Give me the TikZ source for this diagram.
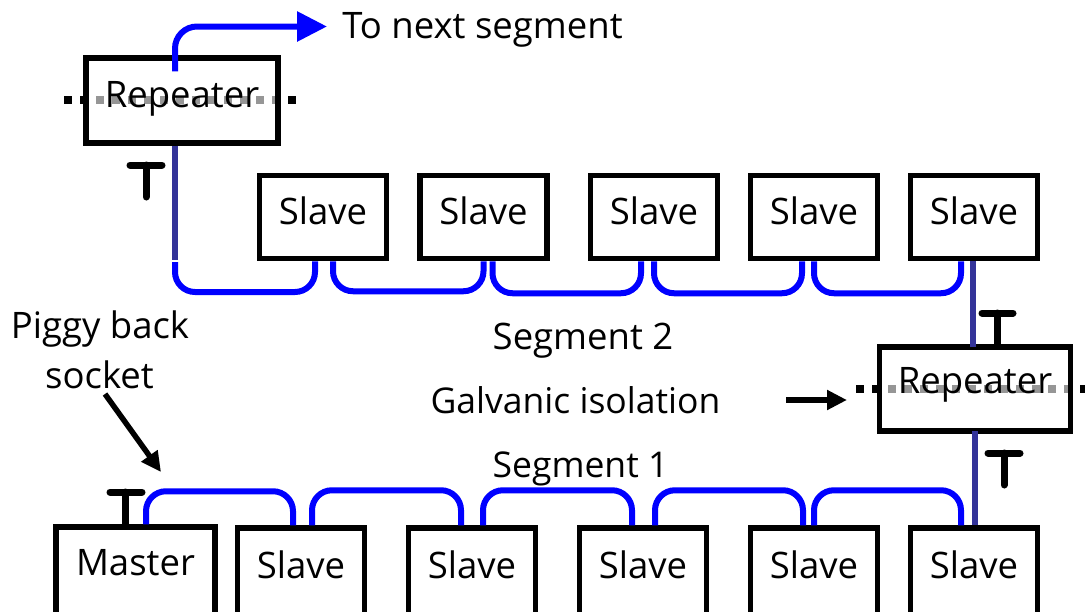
\documentclass[tikz,border=0pt]{standalone}
\usepackage{fontspec}
\setmainfont{Open Sans}
\usetikzlibrary{arrows.meta}
\tikzset{
  x=1pt,y=-1pt,
  unit/.style={draw=black,line width=5.5pt,inner sep=0pt,text height=30pt,text depth=#1,font=\fontsize{36.5}{40}\selectfont},
  slavebox/.style={unit=#1,minimum width=127pt},
  caption/.style={anchor=base,inner sep=0pt,font=\fontsize{36.5}{40}\selectfont},
  smallcaption/.style={caption,font=\fontsize{35.5}{40}\selectfont},
  bus/.style={draw={rgb,255:red,0;green,0;blue,255},line width=6pt,rounded corners=20pt},
  trunk/.style={draw={rgb,255:red,51;green,51;blue,153},line width=6pt},
  tbar/.style={draw=black,line width=7pt,line cap=round},
  pointer/.style={draw=black,line width=5.5pt,-{Triangle[length=20pt,width=19pt]}},
  dots/.style={line width=8pt,dash pattern=on 8pt off 8pt},
}
\definecolor{dotgrey}{RGB}{150,150,150}
\begin{document}
\begin{tikzpicture}
\useasboundingbox (0,0) rectangle (1085,611);
\fill[white] (0,0) rectangle (1085,611);
% bus dots behind the repeaters
\draw[dots,black] (64,100) -- (296,100);
\draw[dots,black] (856,389) -- (1088,389);
\fill[white] (86,58) rectangle (278,143);
\fill[white] (879,347) rectangle (1071,431);
\draw[dots,dotgrey] (96,100) -- (280,100);
\draw[dots,dotgrey] (888,389) -- (1072,389);
% free ends
\coordinate (busstart) at (175,262);
\coordinate (trunkend) at (175,260);
\coordinate (nextseg) at (327,26.5);
\coordinate (isoA) at (786,400);
\coordinate (isoB) at (847,400);
\coordinate (pigA) at (105,394);
\coordinate (pigB) at (161,472);
% units
\node[unit=17pt,minimum width=192pt,minimum height=85pt] (rep1) at (182,100.5) {Repeater};
\node[unit=22pt,minimum width=191pt,minimum height=84pt] (rep2) at (975,389) {Repeater};
\foreach \n/\cx in {a/323,b/483.5,c/654,d/814,e/974}
  \node[slavebox=16pt,minimum height=83pt] (t\n) at (\cx,217) {Slave};
\node[unit=47pt,minimum width=159pt,minimum height=113pt] (master) at (135.5,583.5) {Master};
\foreach \n/\cx in {a/301,b/472,c/643,d/814,e/974}
  \node[slavebox=42pt,minimum height=112pt] (b\n) at (\cx,584) {Slave};
% blue bus, segment 2
\draw[bus] (busstart) -- ++(0,30) -| ([xshift=-8pt]ta.south);
\draw[bus] ([xshift=10pt]ta.south) -- ++(0,30) -| (tb.south);
\draw[bus] ([xshift=9pt]tb.south) -- ++(0,32) -| ([xshift=-13pt]tc.south);
\draw[bus] (tc.south) -- ++(0,32) -| ([xshift=-12pt]td.south);
\draw[bus] (td.south) -- ++(0,32) -| ([xshift=-13pt]te.south);
% blue bus, segment 1
\draw[bus] ([xshift=10.5pt]master.north) -- ++(0,-33) -| ([xshift=-8pt]ba.north);
\draw[bus] ([xshift=11pt]ba.north) -- ++(0,-35) -| ([xshift=-11pt]bb.north);
\draw[bus] ([xshift=11pt]bb.north) -- ++(0,-35) -| ([xshift=-11pt]bc.north);
\draw[bus] ([xshift=12pt]bc.north) -- ++(0,-35) -| ([xshift=-11pt]bd.north);
\draw[bus] (bd.north) -- ++(0,-35) -| ([xshift=-13pt]be.north);
% trunks
\draw[trunk] ([xshift=-7pt]rep1.south) -- (trunkend);
\draw[trunk] ([xshift=-1pt]te.south) -- ([xshift=-2pt,yshift=-3pt]rep2.north);
\draw[trunk] ([yshift=3pt]rep2.south) -- ([xshift=1pt]be.north);
% outgoing wire
\draw[draw={rgb,255:red,0;green,0;blue,255},line width=6pt,rounded corners=22pt,-{Triangle[length=30pt,width=29pt]}]
  ([xshift=-7pt,yshift=-16pt]rep1.north) |- (nextseg);
% terminators
\draw[tbar] (130,165) -- (162,165) (146,165) -- (146,197);
\draw[tbar] (982,313) -- (1013,313) (997,313) -- (997,344);
\draw[tbar] (988,453) -- (1020,453) (1004,453) -- (1004,485);
\draw[tbar] (110,492) -- (142,492) (125,492) -- (125,525);
% pointers
\draw[pointer] (isoA) -- (isoB);
\draw[pointer] (pigA) -- (pigB);
% captions
\node[caption] (cnext) at (482.5,38) {To next segment};
\node[caption] (cpig) at (100,338) {Piggy back};
\node[caption] (csock) at (99.5,388) {socket};
\node[caption] (cseg2) at (583,349) {Segment 2};
\node[smallcaption] (cgal) at (575.5,413) {Galvanic isolation};
\node[smallcaption] (cseg1) at (580.5,477) {Segment 1};
\end{tikzpicture}
\end{document}
